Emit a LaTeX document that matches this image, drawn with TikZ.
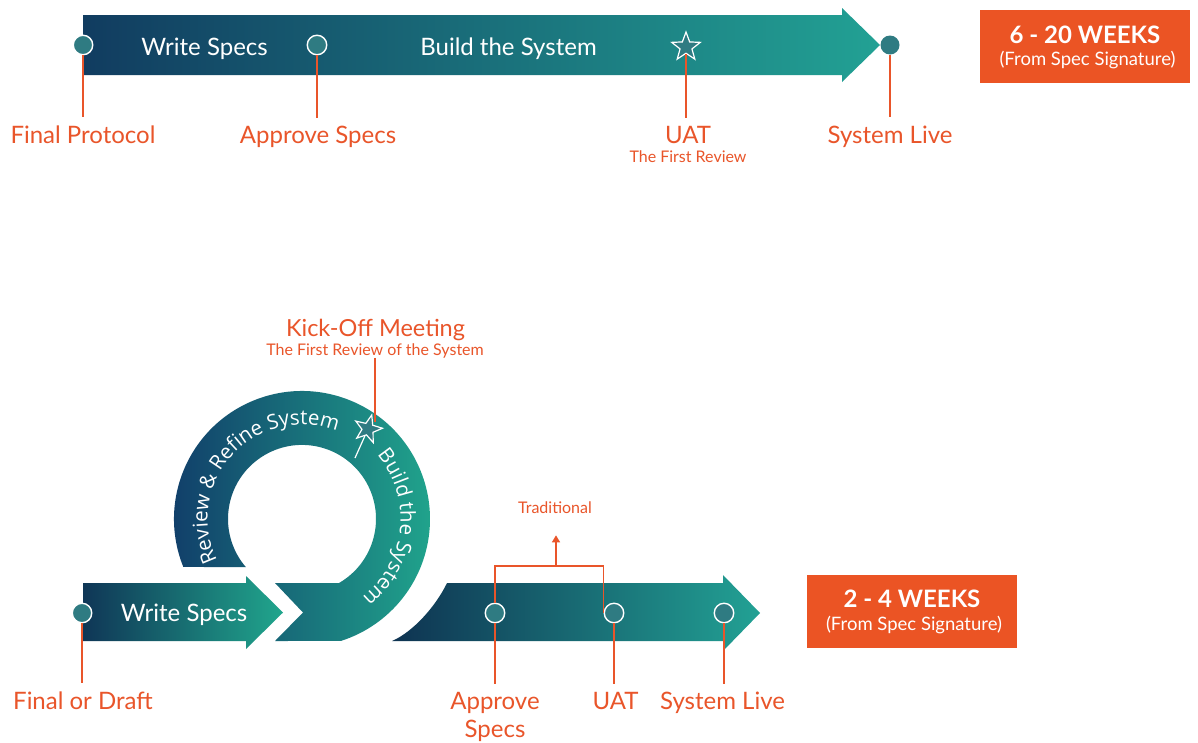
\documentclass[tikz,border=0pt]{standalone}
\usepackage{fontspec}
\setmainfont{Lato}
\newfontfamily\ringfont{Open Sans}
\usetikzlibrary{shapes.geometric,arrows.meta}

\definecolor{navy}{HTML}{113C60}
\definecolor{deepteal}{HTML}{12697A}
\definecolor{brightteal}{HTML}{22A194}
\definecolor{dotfill}{HTML}{2F7B82}
\definecolor{accent}{HTML}{E9552A}
\definecolor{boxorange}{HTML}{EB5424}

% letters set one by one along a clockwise circle (y axis points down)
\newdimen\ringw
\def\ringtextfont{\ringfont\fontsize{20.5}{20.5}\selectfont}
\newcommand\ringmeasure[1]{%
  \pgfinterruptpicture\setbox0=\hbox{\ringtextfont #1}\global\ringw=\wd0\relax\endpgfinterruptpicture}
\newcommand\ringchar[1]{%
  \ringmeasure{#1}%
  \pgfmathsetmacro\ringhalf{\ringw/2/\ringrad*57.29578}%
  \pgfmathsetmacro\ringmid{\ringangle+\ringhalf}%
  \path (\ringcx,\ringcy) ++(\ringmid:\ringrad)
    node[anchor=base,inner sep=0pt,text=white,font=\ringtextfont,rotate=-\ringmid-90] {#1};%
  \pgfmathsetmacro\ringangle{\ringmid+\ringhalf}%
}
\def\ringloop#1{\ifx#1\ringend\else\ringchar{#1}\expandafter\ringloop\fi}
% #1,#2 centre, #3 radius, #4 middle angle, #5 plain text, #6 text with ~ for spaces
\newcommand\ringlabel[6]{%
  \def\ringcx{#1}\def\ringcy{#2}\def\ringrad{#3}%
  \ringmeasure{#5}%
  \pgfmathsetmacro\ringangle{#4-\ringw/2/#3*57.29578}%
  \ringloop#6\ringend
}

\begin{document}
\begin{tikzpicture}[x=1pt,y=-1pt,
  dot/.style={circle,draw=white,line width=1.4pt,fill=dotfill,minimum size=19.5pt,inner sep=0pt},
  starmark/.style={star,star points=5,star point ratio=2.4,draw=white,fill=dotfill,line width=1.2pt,minimum size=30pt,inner sep=0pt},
  conn/.style={draw=accent,line width=1.5pt},
  lbl/.style={text=accent,font=\fontsize{24}{28}\selectfont,inner sep=0pt,outer ysep=8pt,align=center},
  sublbl/.style={text=accent,font=\fontsize{16}{18}\selectfont,inner sep=0pt},
  bandtext/.style={text=white,font=\fontsize{24}{26}\selectfont,inner sep=0pt},
  weekbox/.style={fill=boxorange,minimum width=210pt,minimum height=73pt,inner sep=0pt},
  weektitle/.style={text=white,font=\bfseries\fontsize{24}{26}\selectfont,inner sep=0pt},
  weeksub/.style={text=white,font=\fontsize{18.5}{20}\selectfont,inner sep=0pt}
]
\useasboundingbox (0,0) rectangle (1198,742);
\fill[white] (0,0) rectangle (1198,742);

% ---------- traditional timeline ----------
\shade[left color=navy,middle color=deepteal,right color=brightteal]
  (83,15) -- (842,15) -- (842,8) -- (880,45) -- (842,82) -- (842,75) -- (83,75) -- cycle;

\node[bandtext,anchor=base] (tws) at (204.5,55) {Write Specs};
\node[bandtext,anchor=base] (tbs) at (508.5,55) {Build the System};

\node[dot] (t1) at (83,45) {};
\node[dot] (t2) at (317,45) {};
\node[starmark] (t3) at (686,47) {};
\node[dot,draw=none,minimum size=19pt] (t4) at (890,45) {};

\node[lbl,anchor=base] (tl1) at (83,143) {Final Protocol};
\node[lbl,anchor=base] (tl2) at (318,143) {Approve Specs};
\node[lbl,anchor=base] (tl3) at (688,143) {UAT};
\node[sublbl,anchor=base] (tl3s) at (688,162) {The First Review};
\node[lbl,anchor=base] (tl4) at (890,143) {System Live};

\draw[conn] (t1.south) -- (t1.south |- tl1.north);
\draw[conn] (t2.south) -- (t2.south |- tl2.north);
\draw[conn] (t3.south) -- (t3.south |- tl3.north);
\draw[conn] (t4.south) -- (t4.south |- tl4.north);

\node[weekbox] (w1) at (1085,46.5) {};
\node[weektitle,anchor=base] (w1t) at (1085,43.5) {6 - 20 WEEKS};
\node[weeksub,anchor=base] (w1s) at (1087.5,65) {(From Spec Signature)};

% ---------- iterative timeline ----------
% write specs arrow
\shade[left color=navy!90!black,middle color=deepteal!95!white,right color=brightteal!95!green]
  (83,583) -- (246,583) -- (246,576) -- (283,612.5) -- (246,649) -- (246,641) -- (83,641) -- cycle;
\node[bandtext,anchor=base] (bws) at (184,621) {Write Specs};

% loop band
\shade[left color=navy!95!blue,middle color=deepteal,right color=brightteal!95!green]
  (302,519) ++(158:128) arc[start angle=158,end angle=432.3,radius=128]
  -- (275,641) -- (303,612.5) -- (275,583) -- (339,583)
  arc[start angle=420,end angle=139.4,radius=74] -- cycle;

\ringlabel{302}{519}{94.5}{222.5}{Review \& Refine System}{Review~\&~Refine~System}
\ringlabel{302}{519}{98.5}{366}{Build the System}{Build~the~System}

% kick-off marker
\coordinate (kstail) at (355,458);
\node[starmark,minimum size=29pt,rotate=-15] (ks) at (368,429) {};
\draw[white,line width=1.2pt] (ks) -- (kstail);
\node[lbl,anchor=base,font=\fontsize{23.5}{26}\selectfont] (ko) at (375.5,336) {Kick-Off Meeting};
\node[sublbl,anchor=base] (kos) at (375,355) {The First Review of the System};
\coordinate (kotip) at (374,422);
\draw[conn] (kos.south) -- (kos.south |- kotip);

% delivery arrow
\shade[left color=navy!85!black,middle color=deepteal!90!navy,right color=brightteal]
  (392,641) .. controls (413,632) and (436,606) .. (447,583)
  -- (723,583) -- (723,575) -- (760,613) -- (723,651) -- (723,641) -- cycle;

\node[dot] (b1) at (82,613) {};
\node[dot] (b2) at (495,613) {};
\node[dot] (b3) at (614,613) {};
\node[dot] (b4) at (724,613) {};

\node[lbl,anchor=base] (bl1) at (83,709) {Final or Draft};
\node[lbl,anchor=base] (bl2) at (495,737) {Approve\\Specs};
\node[lbl,anchor=base] (bl3) at (615.5,709) {UAT};
\node[lbl,anchor=base] (bl4) at (722.5,709) {System Live};

\draw[conn] (b1.south) -- (b1.south |- bl1.north);
\draw[conn] (b2.south) -- (b2.south |- bl2.north);
\draw[conn] (b3.south) -- (b3.south |- bl3.north);
\draw[conn] (b4.south) -- (b4.south |- bl4.north);

% traditional bracket
\node[sublbl,anchor=base] (trl) at (555,513) {Traditional};
\coordinate (trad) at (556,566);
\draw[conn] (b2.north) |- (trad) -| (b3.west);
\draw[conn,-{Triangle[length=7pt,width=8pt]},shorten >=22pt] (trad) -- (trad |- trl.south);

\node[weekbox] (w2) at (912,611.5) {};
\node[weektitle,anchor=base] (w2t) at (912,607) {2 - 4 WEEKS};
\node[weeksub,anchor=base] (w2s) at (914,630) {(From Spec Signature)};
\end{tikzpicture}
\end{document}
